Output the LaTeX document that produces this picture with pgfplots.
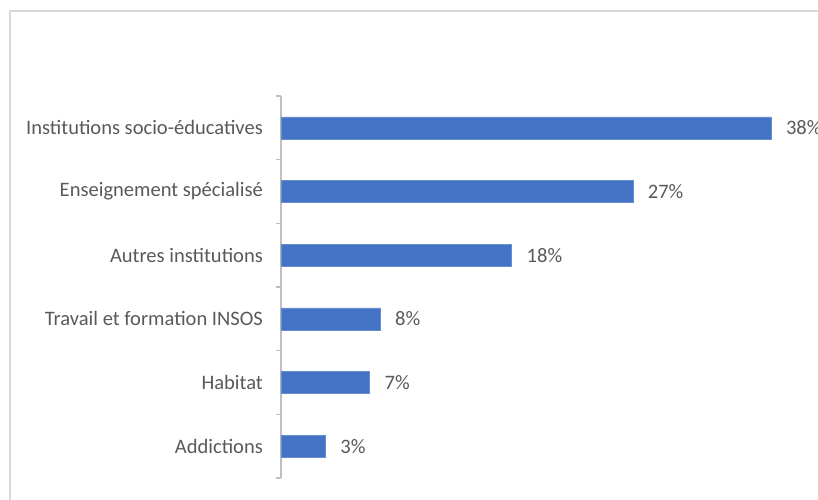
\documentclass[border=0pt]{standalone}
\usepackage{pgfplots}
\pgfplotsset{compat=1.18}
\usepackage{fontspec}
\setmainfont{Carlito}
\definecolor{barblue}{HTML}{4472C4}
\definecolor{txtgray}{HTML}{595959}
\definecolor{axgray}{HTML}{BFBFBF}
\definecolor{framegray}{HTML}{D9D9D9}
\begin{document}
\fontsize{15.4}{18}\selectfont
\begin{tikzpicture}
\useasboundingbox (0,0) rectangle (613.5pt,375pt);
\clip (0,0) rectangle (613.5pt,375pt);
\draw[framegray, line width=1.1pt] (7.5pt,0) -- (7.5pt,366.75pt) -- (620pt,366.75pt);
\begin{axis}[
  at={(210.75pt,16.5pt)}, anchor=south west,
  scale only axis, width=390.9pt, height=286.5pt,
  xbar, bar width=16.5pt,
  xmin=0, xmax=40, ymin=-0.5, ymax=5.5,
  axis x line=none,
  axis y line*=left,
  y axis line style={axgray, line width=0.8pt, -},
  ytick={0,1,2,3,4,5},
  yticklabels={Addictions, Habitat, Travail et formation INSOS, Autres institutions, Enseignement spécialisé, Institutions socio-éducatives},
  major y tick style={draw=none},
  minor ytick={-0.5,0.5,1.5,2.5,3.5,4.5,5.5},
  minor y tick style={axgray, line width=0.8pt},
  minor tick length=4pt,
  tick align=outside,
  yticklabel style={text=txtgray, font=\fontsize{15.4}{18}\selectfont, xshift=-4pt},
  /pgf/number format/assume math mode=true,
  nodes near coords={\pgfmathprintnumber[fixed,precision=0]{\pgfplotspointmeta}\%},
  nodes near coords style={text=txtgray, font=\fontsize{15.4}{18}\selectfont, anchor=west, xshift=6pt},
  clip=false,
]
\addplot[fill=barblue, draw=barblue!80!white] coordinates {(3.4,0) (6.8,1) (7.6,2) (17.7,3) (27.0,4) (37.6,5)};
\end{axis}
\end{tikzpicture}
\end{document}
